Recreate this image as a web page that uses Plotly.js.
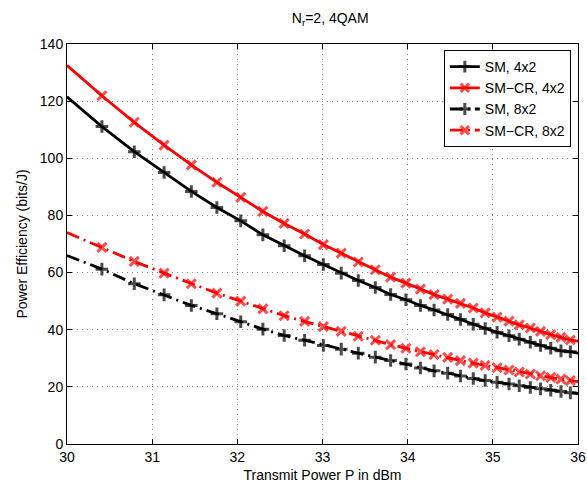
<!DOCTYPE html>
<html>
<head>
<meta charset="utf-8">
<script src="https://cdn.plot.ly/plotly-3.0.1.min.js"></script>
<style>html,body{margin:0;padding:0;background:#fff;}#chart{width:587px;height:487px;}</style>
</head>
<body>
<div id="chart"></div>
<script>
// Transmit power in dBm (points at 1.0, 1.1, ... W; last point is the axis end)
const powerDbm = [30.00, 30.41, 30.79, 31.14, 31.46, 31.76, 32.04, 32.30, 32.55, 32.79,
                  33.01, 33.22, 33.42, 33.62, 33.80, 33.98, 34.15, 34.31, 34.47, 34.62,
                  34.77, 34.91, 35.05, 35.19, 35.31, 35.44, 35.56, 35.68, 35.80, 35.91, 36.00];

const sm4x2 = [121.5, 111.1, 102.3, 95.0, 88.4, 82.8, 78.1, 73.2, 69.4, 65.9,
               62.8, 59.8, 57.2, 54.8, 52.3, 50.5, 48.5, 46.9, 45.3, 43.6,
               41.9, 40.4, 39.1, 37.9, 36.7, 35.6, 34.5, 33.5, 32.6, 32.3, 31.8];

const smcr4x2 = [132.5, 121.9, 112.6, 104.6, 97.7, 91.6, 86.3, 81.4, 77.2, 73.5,
                 69.8, 66.8, 63.7, 61.0, 58.4, 56.3, 54.2, 52.3, 50.7, 49.2,
                 47.6, 45.9, 44.4, 43.0, 41.7, 40.6, 39.4, 38.3, 37.3, 36.4, 36.0];

const sm8x2 = [66.0, 61.2, 56.1, 52.2, 48.5, 45.6, 42.8, 40.2, 38.0, 36.3,
               34.5, 33.2, 31.8, 30.4, 29.2, 28.0, 26.6, 25.6, 24.8, 23.8,
               22.9, 22.2, 21.6, 21.0, 20.4, 19.8, 19.3, 18.8, 18.4, 17.9, 17.6];

const smcr8x2 = [74.0, 68.8, 63.9, 59.8, 56.1, 52.8, 50.0, 47.3, 44.9, 42.9,
                 41.1, 39.4, 37.7, 36.3, 34.8, 33.5, 32.3, 31.3, 30.3, 29.2,
                 28.3, 27.5, 26.7, 25.9, 25.2, 24.5, 23.9, 23.3, 22.7, 22.2, 21.8];

const seriesNames = ['SM, 4x2', 'SM\u2212CR, 4x2', 'SM, 8x2', 'SM\u2212CR, 8x2'];
const xTicks = [30, 31, 32, 33, 34, 35, 36];
const yTicks = [0, 20, 40, 60, 80, 100, 120, 140];

const FONT = 'Liberation Sans, Arial, Helvetica, sans-serif';
const n = powerDbm.length;
const msize = (s) => powerDbm.map((_, i) => (i === 0 || i === n - 1) ? 0 : s);
const DASHDOT = '13px,5px,2px,5px';

function mk(name, y, color, dash, symbol) {
  return {
    x: powerDbm, y: y, name: name, type: 'scatter', mode: 'lines+markers',
    line: {color: color, width: 2.8, dash: dash},
    marker: {symbol: symbol, size: msize(9), color: color,
             line: {color: color, width: 3}},
    cliponaxis: true
  };
}

const traces = [
  mk(seriesNames[0], sm4x2, '#000000', 'solid', 'cross-thin'),
  mk(seriesNames[1], smcr4x2, '#ff0000', 'solid', 'x-thin'),
  mk(seriesNames[2], sm8x2, '#000000', DASHDOT, 'cross-thin'),
  mk(seriesNames[3], smcr8x2, '#ff0000', DASHDOT, 'x-thin')
];

const axisCommon = {
  showline: true, linecolor: '#000', linewidth: 1, mirror: 'ticks',
  ticks: 'inside', ticklen: 5, tickcolor: '#000', tickwidth: 1,
  showgrid: true, gridcolor: '#8a8a8a', griddash: '1px,4px', gridwidth: 1,
  zeroline: false, tickfont: {family: FONT, size: 14, color: '#000'}
};

const layout = {
  width: 587, height: 487,
  margin: {l: 67, r: 9, t: 44, b: 43},
  paper_bgcolor: '#fff', plot_bgcolor: '#fff',
  font: {family: FONT, color: '#000'},
  title: {text: 'N<sub>r</sub>=2, 4QAM', font: {family: FONT, size: 14, color: '#000'},
          x: 0.5625, xanchor: 'center', y: 0.962, yanchor: 'middle', yref: 'container'},
  xaxis: Object.assign({}, axisCommon, {
    range: [30, 36], tickvals: xTicks, ticktext: xTicks.map(String),
    title: {text: 'Transmit Power P in dBm', font: {family: FONT, size: 14, color: '#000'}, standoff: 6}
  }),
  yaxis: Object.assign({}, axisCommon, {
    range: [0, 140], tickvals: yTicks, ticktext: yTicks.map(String),
    title: {text: 'Power Efficiency (bits/J)', font: {family: FONT, size: 14, color: '#000'}, standoff: 8}
  }),
  legend: {
    x: 0.986, xanchor: 'right', y: 0.985, yanchor: 'top',
    bgcolor: '#fff', bordercolor: '#000', borderwidth: 1,
    font: {family: FONT, size: 14, color: '#000'},
    tracegroupgap: 0
  },
  showlegend: true
};

Plotly.newPlot('chart', traces, layout, {displayModeBar: false, staticPlot: true});
</script>
</body>
</html>
